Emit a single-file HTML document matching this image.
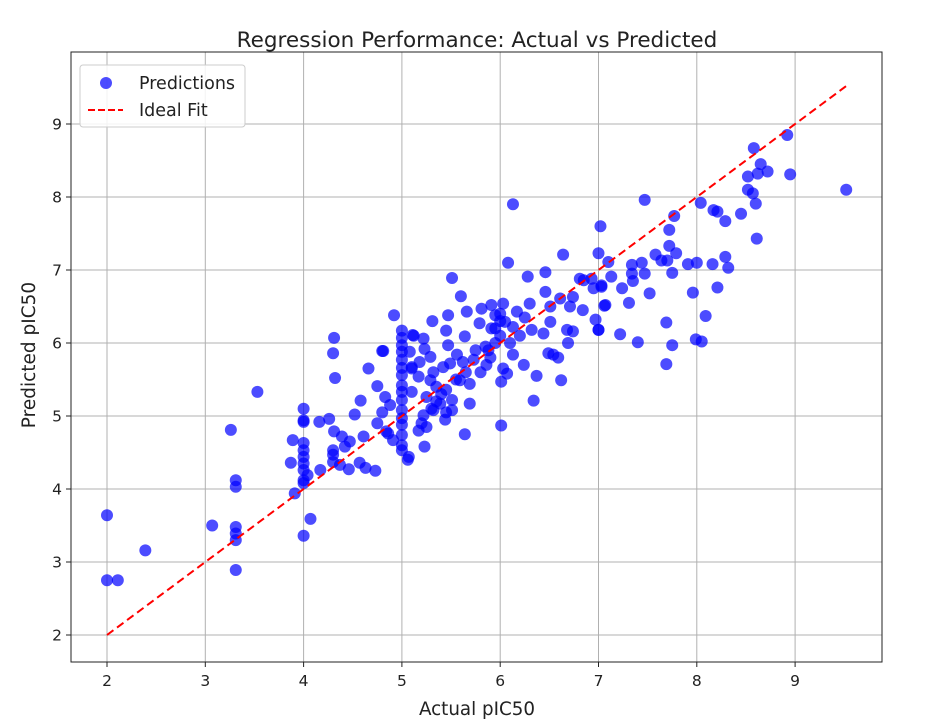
<!DOCTYPE html>
<html><head><meta charset="utf-8">
<style>
html,body{margin:0;padding:0;background:#fff;}
svg{display:block;font-family:"DejaVu Sans","Liberation Sans",sans-serif;fill:#222;}
</style></head>
<body>
<svg id="chart" width="927" height="726" viewBox="0 0 927 726" xmlns="http://www.w3.org/2000/svg">
<text x="477" y="47" font-size="21.5" text-anchor="middle" fill="#222">Regression Performance: Actual vs Predicted</text>
<g id="grid"></g>
<g id="marks"></g>
<g id="ideal"></g>
<rect x="71" y="52" width="811" height="610" fill="none" stroke="#222" stroke-width="1"/>
<g id="ticks"></g>
<text x="477" y="715" font-size="18.3" text-anchor="middle" fill="#222">Actual pIC50</text>
<text transform="translate(35,355) rotate(-90)" font-size="18.5" text-anchor="middle" fill="#222">Predicted pIC50</text>
<g>
<rect x="80" y="65" width="165" height="62" rx="3" fill="#fff" fill-opacity="0.85" stroke="#ccc"/>
<circle cx="106" cy="83" r="6" fill="rgba(0,0,255,0.7)"/>
<text x="139" y="89" font-size="17.5" fill="#222">Predictions</text>
<line x1="88" y1="110" x2="123" y2="110" stroke="#ff0000" stroke-width="2" stroke-dasharray="7,3"/>
<text x="139" y="116" font-size="17.5" fill="#222">Ideal Fit</text>
</g>
</svg>
<script>
const xTicks=[2,3,4,5,6,7,8,9];
const yTicks=[2,3,4,5,6,7,8,9];
const actual=[2.0,2.0,2.11,2.39,3.07,3.31,3.31,3.31,3.31,3.31,3.31,3.26,3.53,3.91,4.0,4.0,4.0,3.89,3.87,4.0,4.0,4.0,4.0,4.0,4.0,4.0,4.04,4.07,4.0,4.17,4.16,4.26,4.31,4.3,4.32,4.31,4.39,4.47,4.42,4.3,4.3,4.3,4.37,4.46,4.57,4.63,4.73,4.61,4.52,4.58,4.66,4.75,4.8,4.83,4.88,4.8,4.75,4.86,4.92,
5,5,5,5,5,5,5,5,5,5,5,5,5,5,5,5,5.06,5.11,5.08,5.1,5.1,
4.81,5.51,6.08,6.64,7.0,6.46,6.28,5.6,5.31,5.47,5.45,5.66,5.12,5.22,5.23,5.47,5.64,5.81,5.91,6.03,6.17,6.3,5.79,5.91,5.95,6.05,6.13,6.32,6.44,6.51,6.46,6.51,6.61,6.74,6.81,6.95,7.03,7.13,6.71,6.84,7.07,6.97,7.0,6.74,6.68,6.69,6.49,6.54,6.59,6.24,6.37,6.62,6.34,6.01,6.01,
5.56,5.62,5.73,5.86,5.88,6.13,6.03,6.07,5.29,5.18,5.1,5.17,5.32,5.42,5.49,5.29,5.35,5.45,5.59,5.69,5.51,5.25,5.32,5.22,5.39,5.44,5.51,5.69,5.64,5.23,5.17,4.84,4.91,5.07,
8.92,8.58,8.95,9.52,8.65,8.72,8.52,8.62,8.52,8.57,8.6,7.47,8.04,8.17,8.21,8.29,8.45,8.61,7.77,7.72,7.02,7.72,7.79,7.58,7.64,7.7,7.44,7.34,7.47,7.34,7.75,7.91,8.0,8.16,8.29,8.32,7.35,7.24,7.52,7.96,8.21,7.31,7.06,7.0,7.22,7.4,7.69,7.75,7.69,8.09,7.99,8.05,6.85,6.93,7.03,7.1,6.13,
5.75,5.85,5.95,6.0,6.0,6.0,5.95,5.65,5.55,5.4,5.35,5.3,5.2,5.25,5.45,6.2,6.25,6.1,5.8,5.9];
const predicted=[3.64,2.75,2.75,3.16,3.5,3.48,3.39,3.3,2.89,4.12,4.03,4.81,5.33,3.94,5.1,4.94,4.92,4.67,4.36,4.63,4.53,4.44,4.35,4.26,4.12,4.08,4.19,3.59,3.36,4.26,4.92,4.96,6.07,5.86,5.52,4.79,4.72,4.65,4.58,4.53,4.47,4.37,4.33,4.27,4.36,4.29,4.25,4.72,5.02,5.21,5.65,5.41,5.89,5.26,5.15,5.05,4.9,4.76,6.38,
6.17,6.07,5.97,5.88,5.77,5.66,5.56,5.42,5.33,5.22,5.08,4.97,4.88,4.74,4.6,4.53,4.4,6.11,5.88,5.65,5.33,
5.89,6.89,7.1,7.21,7.23,6.97,6.91,6.64,6.3,6.38,6.17,6.43,6.1,6.06,5.92,5.97,6.09,6.47,6.52,6.54,6.43,6.54,6.27,6.2,6.38,6.29,6.22,6.18,6.13,6.29,6.7,6.5,6.61,6.63,6.88,6.75,6.77,6.91,6.5,6.45,6.52,6.32,6.18,6.16,6.18,6.0,5.86,5.84,5.8,5.7,5.55,5.49,5.21,4.87,5.47,
5.84,5.74,5.77,5.7,5.9,5.84,5.65,5.58,5.81,5.74,5.67,5.54,5.6,5.67,5.72,5.49,5.4,5.36,5.49,5.44,5.22,5.26,5.08,5.01,5.17,4.95,5.08,5.17,4.75,4.58,4.8,4.79,4.67,4.44,
8.85,8.67,8.31,8.1,8.45,8.35,8.28,8.32,8.1,8.05,7.91,7.96,7.92,7.82,7.8,7.67,7.77,7.43,7.74,7.55,7.6,7.33,7.23,7.21,7.13,7.13,7.1,7.07,6.95,6.95,6.96,7.08,7.1,7.08,7.18,7.03,6.85,6.75,6.68,6.69,6.76,6.55,6.51,6.18,6.12,6.01,6.28,5.97,5.71,6.37,6.05,6.02,6.86,6.88,6.79,7.11,7.9,
5.9,5.95,6.0,6.1,6.3,6.4,6.2,5.6,5.5,5.3,5.2,5.1,4.9,4.85,5.05,6.1,6.35,6.0,5.6,5.8];
const fitRange=[2.0,9.53];

const NS="http://www.w3.org/2000/svg";
const X0=71,X1=882,Y0=52,Y1=662;
function xs(v){return 107+(v-2)*98.3;}
function ys(v){return 635-(v-2)*73;}
function mk(tag,attrs,parent){const e=document.createElementNS(NS,tag);for(const k in attrs)e.setAttribute(k,attrs[k]);parent.appendChild(e);return e;}
const grid=document.getElementById('grid'),ticks=document.getElementById('ticks');
xTicks.forEach(t=>{
  const x=xs(t);
  const g=mk('line',{x1:x,y1:Y0,x2:x,y2:Y1,stroke:'#b0b0b0','stroke-width':1},grid);
  
  
  const tk=mk('line',{x1:x,y1:Y1,x2:x,y2:Y1+5,stroke:'#222'},ticks);
  
  
  const tx=mk('text',{x:x,y:686,'font-size':15.5,'text-anchor':'middle',fill:'#222'},ticks);
  tx.textContent=t;
  
  
});
yTicks.forEach(t=>{
  const y=ys(t);
  const g=mk('line',{x1:X0,y1:y,x2:X1,y2:y,stroke:'#b0b0b0','stroke-width':1},grid);
  
  
  const tk=mk('line',{x1:X0-5,y1:y,x2:X0,y2:y,stroke:'#222'},ticks);
  
  
  const tx=mk('text',{x:X0-9,y:y+5.5,'font-size':15.5,'text-anchor':'end',fill:'#222'},ticks);
  tx.textContent=t;
  
  
});
const marks=document.getElementById('marks');
actual.forEach((a,i)=>{
  const c=mk('circle',{cx:xs(a),cy:ys(predicted[i]),r:6,fill:'rgba(0,0,255,0.7)'},marks);
  
  
});
const l=mk('line',{x1:xs(fitRange[0]),y1:ys(fitRange[0]),x2:xs(fitRange[1]),y2:ys(fitRange[1]),stroke:'#ff0000','stroke-width':2,'stroke-dasharray':'8,4.5'},document.getElementById('ideal'));


</script>
</body></html>
